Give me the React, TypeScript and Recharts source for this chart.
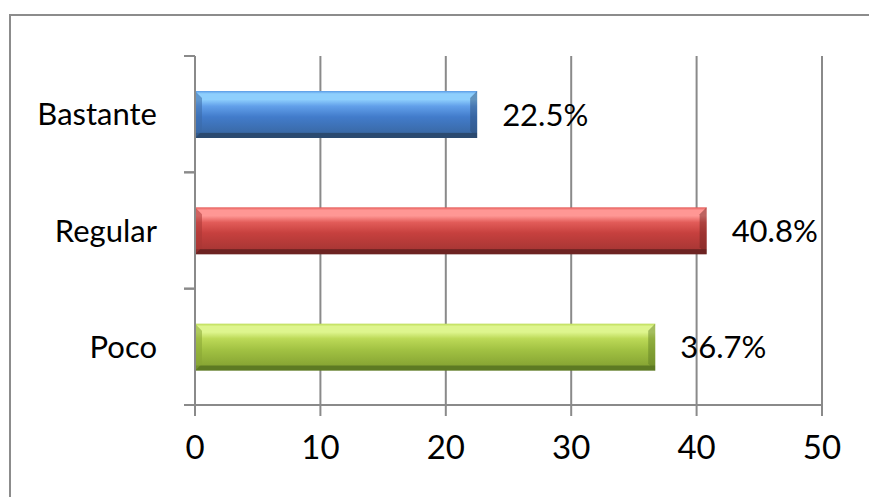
import React from 'react';
import { BarChart, Bar, XAxis, YAxis, CartesianGrid, LabelList } from 'recharts';

const categories = ['Bastante', 'Regular', 'Poco'];
const percentages = [22.5, 40.8, 36.7];
const xTicks = [0, 10, 20, 30, 40, 50];

// gradient palettes per bar: [edge, highlight, light, mid, low, dark]
const palettes: Record<string, string[]> = {
  Bastante: ['#5a9be6', '#8ecffd', '#62a0ea', '#427ccb', '#3a6aa8', '#2b4a70'],
  Regular: ['#e45a58', '#ff9794', '#e25c59', '#c6403e', '#aa3735', '#6d2322'],
  Poco: ['#bddc58', '#def58e', '#bcd957', '#a2c243', '#88a634', '#5d7a23'],
};

const data = categories.map((name, i) => ({ name, value: percentages[i] }));

const gridColor = '#8a8a8a';
const font = 'Lato, "Open Sans", sans-serif';
const axisX = 195;

function BevelBar(props: any) {
  const { x, y, width, height, payload, index } = props;
  if (width <= 0) return null;
  const c = palettes[payload.name];
  const id = `bevel-${index}`;
  const b = 7;
  return (
    <g>
      <defs>
        <linearGradient id={id} x1="0" y1="0" x2="0" y2="1">
          <stop offset="0" stopColor={c[0]} />
          <stop offset="0.06" stopColor={c[1]} />
          <stop offset="0.18" stopColor={c[1]} />
          <stop offset="0.32" stopColor={c[2]} />
          <stop offset="0.55" stopColor={c[3]} />
          <stop offset="0.88" stopColor={c[4]} />
          <stop offset="0.9" stopColor={c[5]} />
          <stop offset="1" stopColor={c[5]} />
        </linearGradient>
      </defs>
      <rect x={x} y={y} width={width} height={height} fill={`url(#${id})`} />
      <polygon
        points={`${x},${y} ${x + b},${y + b} ${x + b},${y + height - b} ${x},${y + height}`}
        fill={c[4]}
        opacity={0.55}
      />
      <polygon
        points={`${x + width},${y} ${x + width - b},${y + b} ${x + width - b},${y + height - b} ${x + width},${y + height}`}
        fill={c[5]}
        opacity={0.45}
      />
    </g>
  );
}

// category label plus the small tick marks at the band edges (Excel style)
function CategoryTick(props: any) {
  const { x, y, payload } = props;
  const half = payload && payload.offset ? payload.offset : 58;
  return (
    <g>
      <line x1={axisX - 11} x2={axisX} y1={y - half} y2={y - half} stroke={gridColor} strokeWidth={2} />
      <line x1={axisX - 11} x2={axisX} y1={y + half} y2={y + half} stroke={gridColor} strokeWidth={2} />
      <text x={x} y={y} dy="0.36em" textAnchor="end" fill="#000" fontSize={31} fontFamily={font}>
        {payload.value}
      </text>
    </g>
  );
}

export default function App() {
  return (
    <div style={{ position: 'absolute', left: 0, top: 0, width: 869, height: 497, background: '#fff', overflow: 'hidden' }}>
      <div
        style={{
          position: 'absolute',
          left: 9,
          top: 14,
          width: 900,
          height: 520,
          border: '2px solid #8c8c8c',
          boxSizing: 'border-box',
        }}
      />
      <div style={{ position: 'absolute', left: 0, top: 0 }}>
        <BarChart
          width={869}
          height={497}
          data={data}
          layout="vertical"
          margin={{ top: 56, right: 47, bottom: 32, left: 0 }}
          barSize={47}
        >
          <CartesianGrid horizontal={false} stroke={gridColor} strokeWidth={2} />
          <XAxis
            type="number"
            domain={[0, 50]}
            ticks={xTicks}
            height={60}
            axisLine={{ stroke: gridColor, strokeWidth: 2 }}
            tickLine={{ stroke: gridColor, strokeWidth: 2 }}
            tickSize={11}
            tickMargin={20}
            tick={{ fill: '#000', fontSize: 33, fontFamily: font }}
            interval={0}
          />
          <YAxis
            type="category"
            dataKey="name"
            width={axisX}
            axisLine={{ stroke: gridColor, strokeWidth: 2 }}
            tickLine={false}
            tickSize={0}
            tickMargin={38}
            tick={<CategoryTick />}
          />
          <Bar dataKey="value" shape={BevelBar} isAnimationActive={false}>
            <LabelList
              dataKey="value"
              position="right"
              offset={25}
              formatter={(v: any) => `${Number(v).toFixed(1)}%`}
              style={{ fill: '#000', fontSize: 31, fontFamily: font }}
            />
          </Bar>
        </BarChart>
      </div>
    </div>
  );
}
